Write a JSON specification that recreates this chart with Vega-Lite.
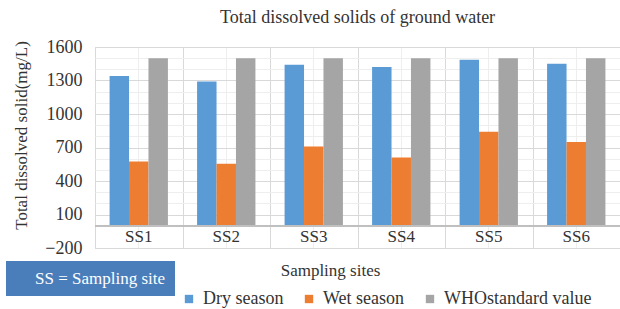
{
  "$schema": "https://vega.github.io/schema/vega-lite/v6.json",
  "width": 525,
  "height": 201,
  "autosize": {"type": "none"},
  "padding": {"left": 95, "top": 47, "right": 0, "bottom": 61},
  "background": "white",
  "config": {
    "font": "Liberation Serif, serif",
    "view": {"stroke": "#D9D9D9"},
    "axis": {"labelFont": "Liberation Serif, serif", "titleFont": "Liberation Serif, serif", "labelColor": "#333333", "titleColor": "#333333"},
    "legend": {"labelFont": "Liberation Serif, serif", "labelLimit": 0},
    "text": {"font": "Liberation Serif, serif"},
    "title": {"font": "Liberation Serif, serif"}
  },
  "title": {
    "text": "Total dissolved solids of ground water",
    "fontSize": 18,
    "fontWeight": "normal",
    "color": "#333333",
    "font": "Liberation Serif, serif",
    "anchor": "middle",
    "frame": "group",
    "offset": 11
  },
  "data": {
    "values": [
      {"site": "SS1", "season": "Dry season", "value": 1340},
      {"site": "SS1", "season": "Wet season", "value": 575},
      {"site": "SS1", "season": "WHOstandard value", "value": 1500},
      {"site": "SS2", "season": "Dry season", "value": 1290},
      {"site": "SS2", "season": "Wet season", "value": 555},
      {"site": "SS2", "season": "WHOstandard value", "value": 1500},
      {"site": "SS3", "season": "Dry season", "value": 1440},
      {"site": "SS3", "season": "Wet season", "value": 710},
      {"site": "SS3", "season": "WHOstandard value", "value": 1500},
      {"site": "SS4", "season": "Dry season", "value": 1420},
      {"site": "SS4", "season": "Wet season", "value": 610},
      {"site": "SS4", "season": "WHOstandard value", "value": 1500},
      {"site": "SS5", "season": "Dry season", "value": 1485},
      {"site": "SS5", "season": "Wet season", "value": 840},
      {"site": "SS5", "season": "WHOstandard value", "value": 1500},
      {"site": "SS6", "season": "Dry season", "value": 1450},
      {"site": "SS6", "season": "Wet season", "value": 750},
      {"site": "SS6", "season": "WHOstandard value", "value": 1500}
    ]
  },
  "resolve": {"axis": {"x": "independent", "y": "independent"}},
  "layer": [
    {
      "transform": [{"filter": "datum.season === 'Dry season'"}],
      "mark": {"type": "text", "fontSize": 17, "font": "Liberation Serif, serif", "color": "#333333", "baseline": "middle"},
      "encoding": {
        "x": {
          "field": "site", "type": "nominal",
          "scale": {"paddingInner": 0, "paddingOuter": 0},
          "axis": {"orient": "bottom", "grid": true, "gridColor": "#EEEEEE", "labels": false, "ticks": false, "domain": false, "title": null}
        },
        "y": {
          "datum": -100, "type": "quantitative",
          "scale": {"domain": [-200, 1600], "nice": false},
          "axis": {"orient": "left", "values": [200, 300, 500, 600, 800, 900, 1100, 1200, 1400, 1500], "grid": true, "gridColor": "#EEEEEE", "labels": false, "ticks": false, "domain": false, "title": null}
        },
        "text": {"field": "site"}
      }
    },
    {
      "mark": {"type": "bar"},
      "encoding": {
        "x": {
          "field": "site", "type": "nominal",
          "scale": {"paddingInner": 0, "paddingOuter": 0},
          "axis": {
            "orient": "bottom", "grid": true, "tickBand": "extent", "gridColor": "#D9D9D9",
            "labels": false, "ticks": false, "domain": false,
            "title": "Sampling sites", "titleFontSize": 17, "titleFontWeight": "normal",
            "titleFont": "Liberation Serif, serif",
            "titleX": 235, "titleY": 22, "titleBaseline": "middle"
          }
        },
        "xOffset": {
          "field": "season", "type": "nominal",
          "sort": ["Dry season", "Wet season", "WHOstandard value"],
          "scale": {"paddingInner": 0, "paddingOuter": 0.75}
        },
        "y": {
          "field": "value", "type": "quantitative",
          "scale": {"domain": [-200, 1600], "nice": false},
          "axis": {
            "orient": "left",
            "values": [-200, 100, 400, 700, 1000, 1300, 1600],
            "format": "d",
            "grid": true, "gridColor": "#D9D9D9",
            "domain": false, "ticks": false, "labelPadding": 13, "labelFontSize": 18,
            "labelFont": "Liberation Serif, serif", "titleFont": "Liberation Serif, serif",
            "title": "Total dissolved solid(mg/L)", "titleFontSize": 17, "titleFontWeight": "normal",
            "titleX": -74, "titleY": 88, "titleAngle": -90, "titleBaseline": "middle", "titleAlign": "center"
          }
        },
        "color": {
          "field": "season", "type": "nominal",
          "scale": {"domain": ["Dry season", "Wet season", "WHOstandard value"], "range": ["#5B9BD5", "#ED7D31", "#A5A5A5"]},
          "legend": {
            "orient": "none", "legendX": 85, "legendY": 243, "direction": "horizontal",
            "title": null, "symbolType": "square", "symbolSize": 70, "symbolStrokeWidth": 0,
            "labelFont": "Liberation Serif, serif",
            "labelFontSize": 18, "labelColor": "#333333", "labelOffset": 5, "columnPadding": 16, "padding": 0
          }
        }
      }
    },
    {
      "mark": {"type": "rule", "color": "#BFBFBF", "strokeWidth": 1},
      "encoding": {
        "y": {"datum": 0, "type": "quantitative", "scale": {"domain": [-200, 1600], "nice": false}, "axis": null},
        "strokeDash": {
          "datum": "SS = Sampling site",
          "scale": {"range": [[1, 0]]},
          "legend": {
            "orient": "none", "legendX": -89, "legendY": 214, "title": null,
            "fillColor": "#4A7EBB", "padding": 9,
            "labelFont": "Liberation Serif, serif",
            "labelColor": "white", "labelFontSize": 17, "labelOffset": 3,
            "symbolOpacity": 0, "symbolStrokeWidth": 0, "symbolSize": 1
          }
        }
      }
    }
  ]
}
